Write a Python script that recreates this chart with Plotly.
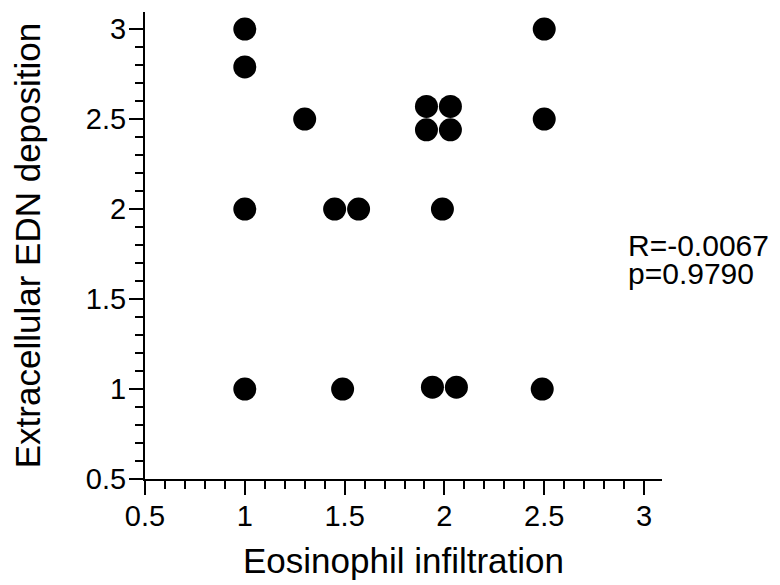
import plotly.graph_objects as go

# Data
eosinophil_infiltration = [1.0, 1.0, 1.3, 1.0, 1.45, 1.57, 1.99, 1.91, 2.03, 1.91, 2.03, 2.5, 2.5, 1.0, 1.49, 1.94, 2.06, 2.49]
edn_deposition = [3.0, 2.79, 2.5, 2.0, 2.0, 2.0, 2.0, 2.57, 2.57, 2.44, 2.44, 3.0, 2.5, 1.0, 1.0, 1.01, 1.01, 1.0]

tick_values = [0.5, 1, 1.5, 2, 2.5, 3]
tick_labels = ["0.5", "1", "1.5", "2", "2.5", "3"]
stats_lines = ["R=-0.0067", "p=0.9790"]

FONT = "Liberation Sans, Arial, Helvetica, sans-serif"

fig = go.Figure()
fig.add_trace(go.Scatter(
    x=eosinophil_infiltration, y=edn_deposition, mode="markers",
    marker=dict(size=23, color="black", line=dict(width=0)),
    showlegend=False,
))

axis_common = dict(
    showgrid=False, zeroline=False, showline=True, linecolor="black", linewidth=2,
    ticks="outside", ticklen=14, tickwidth=2, tickcolor="black",
    tickvals=tick_values, ticktext=tick_labels,
    tickfont=dict(family=FONT, size=29, color="black"),
    minor=dict(ticks="outside", ticklen=8, tickwidth=2, tickcolor="black", dtick=0.1, tick0=0.5),
    automargin=False,
)

# The page body adds an 8px offset; the figure is sized to fill the rest of the window.
fig.update_layout(
    width=772, height=577,
    margin=dict(l=137, r=118, t=4, b=106),
    paper_bgcolor="white", plot_bgcolor="white",
    font=dict(family=FONT, color="black"),
    xaxis=dict(range=[0.5, 3.09], ticklabelstandoff=-4,
               title=dict(text="Eosinophil infiltration",
                          font=dict(family=FONT, size=35, color="black"), standoff=18), **axis_common),
    yaxis=dict(range=[0.5, 3.095], ticklabelstandoff=-3,
               title=dict(text="Extracellular EDN deposition",
                          font=dict(family=FONT, size=35, color="black"), standoff=36), **axis_common),
)

for i, line in enumerate(stats_lines):
    fig.add_annotation(
        text=line, xref="paper", yref="paper", x=1.0, y=0.499 - i * 0.058,
        xanchor="left", yanchor="middle", xshift=-36, showarrow=False,
        font=dict(family=FONT, size=30, color="black"),
    )

fig.write_html("out.html")
